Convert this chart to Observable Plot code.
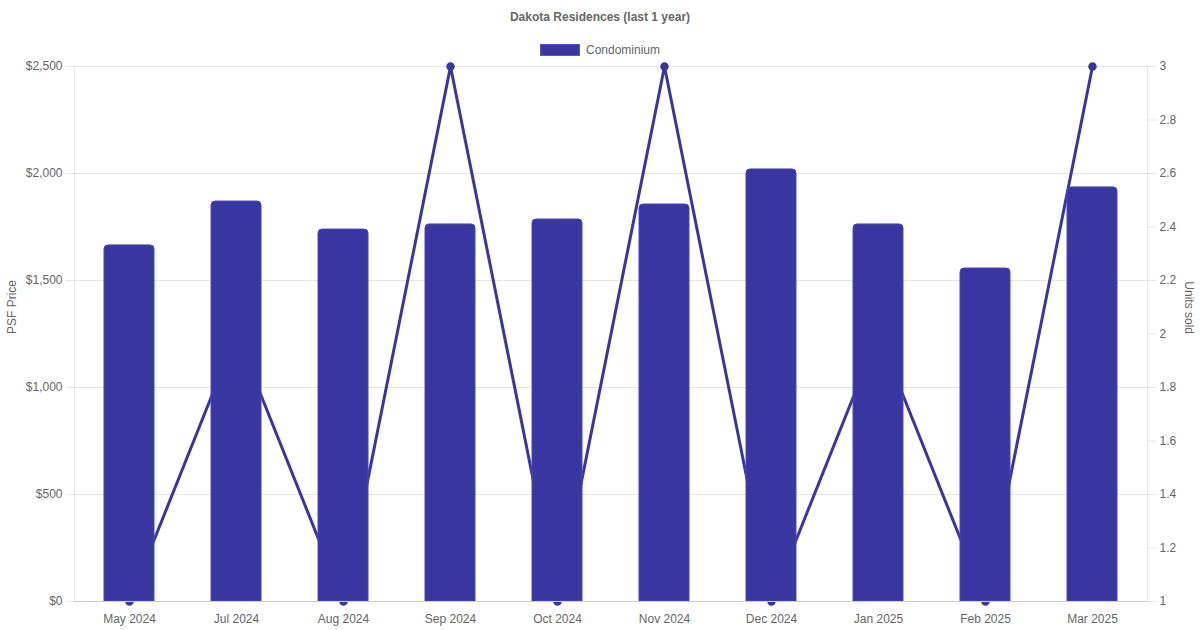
<!DOCTYPE html>
<html>
<head>
<meta charset="utf-8">
<script src="https://cdn.jsdelivr.net/npm/d3@7"></script>
<script src="https://cdn.jsdelivr.net/npm/@observablehq/plot@0.6"></script>
<style>
  body { margin: 0; background: #fff; font-family: "Liberation Sans", Arial, sans-serif; }
  #title { height: 34px; line-height: 34px; text-align: center; font-size: 12px; font-weight: bold; color: #666; }
  #legend { height: 16px; padding-top: 8px; display: flex; justify-content: center; align-items: center; font-size: 12px; color: #666; }
  #legend span.box { display: inline-block; width: 40px; height: 12px; background: #3a36a1; border: 1px solid #5a56c0; box-sizing: border-box; margin-right: 6px; }
</style>
</head>
<body>
<div id="title">Dakota Residences (last 1 year)</div>
<div id="legend"><span class="box"></span>Condominium</div>
<div id="chart"></div>
<script>
const months = ['May 2024', 'Jul 2024', 'Aug 2024', 'Sep 2024', 'Oct 2024', 'Nov 2024', 'Dec 2024', 'Jan 2025', 'Feb 2025', 'Mar 2025']
const psfPrice = [1664, 1869, 1738, 1762, 1785, 1855, 2019, 1762, 1556, 1935]
const unitsSold = [1, 2, 1, 3, 1, 3, 1, 2, 1, 3]
const priceTicks = [0, 500, 1000, 1500, 2000, 2500]
const unitTicks = [1, 1.2, 1.4, 1.6, 1.8, 2, 2.2, 2.4, 2.6, 2.8, 3]

const color = '#3a36a1'
// units sold sit on the right axis (1..3), mapped onto the price scale (0..2500)
const toPrice = u => (u - 1) / 2 * 2500
const toUnits = p => p / 2500 * 2 + 1

const data = months.map((m, i) => ({month: m, price: psfPrice[i], units: unitsSold[i], unitsY: toPrice(unitsSold[i])}))

const chart = Plot.plot({
  width: 1200,
  height: 572,
  marginTop: 8,
  marginBottom: 29,
  marginLeft: 74,
  marginRight: 53,
  style: {fontFamily: '"Liberation Sans", Arial, sans-serif', fontSize: '12px', color: '#666', overflow: 'visible'},
  x: {domain: months, paddingInner: 0.534, paddingOuter: 0.267},
  y: {domain: [0, 2500]},
  marks: [
    Plot.gridY(priceTicks, {stroke: '#e5e5e5', strokeOpacity: 1}),
    Plot.frame({anchor: 'left', stroke: '#e5e5e5'}),
    Plot.frame({anchor: 'right', stroke: '#e5e5e5'}),
    Plot.axisY({
      ticks: priceTicks,
      tickFormat: d => '$' + d3.format(',')(d),
      tickSize: 8,
      tickPadding: 4,
      stroke: '#e5e5e5',
      strokeOpacity: 1,
      label: null,
      fill: '#666'
    }),
    Plot.axisY({
      anchor: 'right',
      ticks: unitTicks.map(toPrice),
      tickFormat: d => String(+toUnits(d).toFixed(1)),
      tickSize: 8,
      tickPadding: 4,
      stroke: '#e5e5e5',
      strokeOpacity: 1,
      label: null,
      fill: '#666'
    }),
    Plot.axisX({tickSize: 0, tickPadding: 13, label: null, fill: '#666'}),
    Plot.text(['PSF Price'], {frameAnchor: 'left', dx: -62, rotate: -90, fill: '#666', fontSize: 12}),
    Plot.text(['Units sold'], {frameAnchor: 'right', dx: 41, rotate: 90, fill: '#666', fontSize: 12}),
    Plot.line(data, {x: 'month', y: 'unitsY', stroke: color, strokeWidth: 3}),
    Plot.dot(data, {x: 'month', y: 'unitsY', r: 3.5, fill: color, stroke: color}),
    Plot.barY(data, {x: 'month', y: 'price', fill: color, stroke: '#4a46b8', strokeWidth: 1, rx1y1: 4, rx2y1: 4}),
    Plot.ruleY([0], {stroke: '#ccc'})
  ]
})
d3.select('#chart').append(() => chart)
</script>
</body>
</html>
